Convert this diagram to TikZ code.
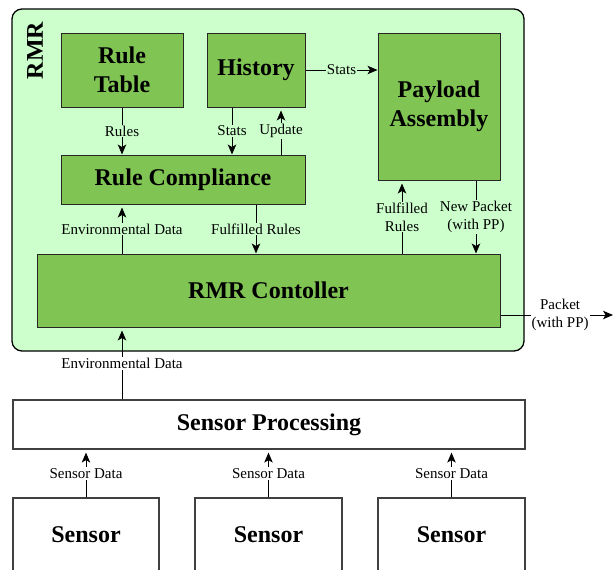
\documentclass[tikz,border=0pt]{standalone}
\usepackage{fontspec}
\setmainfont{Liberation Serif}
\usetikzlibrary{arrows.meta,calc}
\definecolor{panelgreen}{RGB}{204,255,204}
\definecolor{blockgreen}{RGB}{128,196,84}

\begin{document}
\begin{tikzpicture}[x=1pt,y=-1pt,
  title/.style={font=\fontsize{24}{28.8}\selectfont\bfseries, align=center},
  block/.style={title, draw=black!85, line width=1pt, fill=blockgreen, inner sep=0pt},
  plainbox/.style={title, draw=black!75, line width=1.2pt, fill=white, inner sep=0pt},
  lbl/.style={font=\fontsize{15}{18}\selectfont, align=center, inner sep=1pt, fill=panelgreen},
  lblw/.style={lbl, fill=white},
  conn/.style={line width=0.9pt, -{Stealth[length=10pt,width=8.5pt,inset=2.5pt]}},
  upconn/.style={conn, shorten >=3pt}]

\clip (0,0) rectangle (614,570);

% RMR enclosure
\node[draw=black, line width=1.3pt, fill=panelgreen, rounded corners=10pt,
      minimum width=512pt, minimum height=342pt, inner sep=0pt] (rmr) at (268,180) {};
\node[title, rotate=90] (rmrlbl) at (35,50.5) {RMR};

% RMR building blocks
\node[block, minimum width=122pt, minimum height=74pt] (rt)   at (122,70)    {Rule\\Table};
\node[block, minimum width=98pt,  minimum height=74pt] (hist) at (256,70)    {History};
\node[block, minimum width=122pt, minimum height=147pt] (pa)  at (439,106.5) {Payload\\Assembly};
\node[block, minimum width=244pt, minimum height=49pt] (rc)   at (183,179.5) {Rule Compliance};
\node[block, minimum width=463pt, minimum height=73pt] (ctl)  at (268.5,290.5) {RMR Contoller};

% sensing chain
\node[plainbox, minimum width=512pt, minimum height=49pt] (sp) at (269,424.5) {Sensor Processing};
\node[plainbox, minimum width=146pt, minimum height=74pt] (s1) at (86,535)   {Sensor};
\node[plainbox, minimum width=147pt, minimum height=74pt] (s2) at (268.5,535) {Sensor};
\node[plainbox, minimum width=147pt, minimum height=74pt] (s3) at (451.5,535) {Sensor};

% connectors inside the RMR
\draw[conn] (rt.south) -- node[lbl] {Rules} (rt.south |- rc.north);
\draw[conn] ([xshift=-24pt]hist.south) -- node[lbl] {Stats} ([xshift=-24pt]hist.south |- rc.north);
\draw[upconn] ([xshift=25pt]hist.south |- rc.north) -- node[lbl] {Update} ([xshift=25pt]hist.south);
\draw[conn] (hist.east) -- node[lbl] {Stats} (hist.east -| pa.west);
\draw[upconn] (rt.south |- ctl.north) -- node[lbl] {Environmental Data} (rt.south |- rc.south);
\draw[conn] (hist.south |- rc.south) -- node[lbl] {Fulfilled Rules} (hist.south |- ctl.north);
\draw[upconn] ([xshift=-37pt]pa.south |- ctl.north) -- node[lbl] {Fulfilled\\Rules} ([xshift=-37pt]pa.south);
\draw[conn] ([xshift=37pt]pa.south) -- node[lbl] {New Packet\\(with PP)} ([xshift=37pt]pa.south |- ctl.north);

% output of the controller
\coordinate (out) at (613,315);
\draw[conn] (ctl.east |- out) -- node[lblw, pos=0.53] {Packet\\(with PP)} (out);

% data coming up from the sensors
\draw[upconn] (rt.south |- sp.north) -- node[lblw] {Environmental Data} (rt.south |- ctl.south);
\draw[upconn] (s1.north) -- node[lblw] {Sensor Data} (s1.north |- sp.south);
\draw[upconn] (s2.north) -- node[lblw] {Sensor Data} (s2.north |- sp.south);
\draw[upconn] (s3.north) -- node[lblw] {Sensor Data} (s3.north |- sp.south);
\end{tikzpicture}
\end{document}
